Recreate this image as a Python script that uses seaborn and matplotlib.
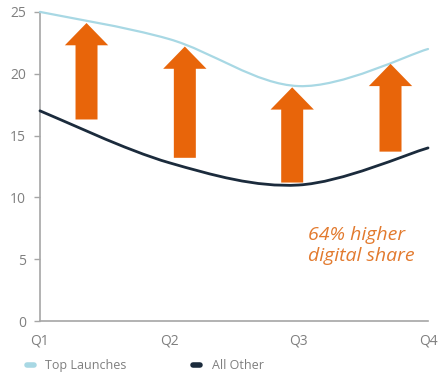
import numpy as np
import matplotlib
matplotlib.use("Agg")
import matplotlib.pyplot as plt
import seaborn as sns
from matplotlib.path import Path
from matplotlib.patches import PathPatch
from matplotlib.lines import Line2D

# ========== data ==========
quarters = ["Q1", "Q2", "Q3", "Q4"]
top_launches = [25.0, 22.8, 19.0, 22.0]
all_other = [17.0, 12.8, 11.0, 14.0]

# arrow annotations (x in quarter index, y from base to tip)
arrow_x = [0.36, 1.12, 1.95, 2.71]
arrow_base = [16.3, 13.2, 11.2, 13.7]
arrow_tip = [24.1, 22.2, 18.9, 20.8]

light_blue = "#A8D8E4"
navy = "#1B2B3C"
orange = "#E8650A"
grey = "#7F7F7F"

sns.set_theme(style="white")
plt.rcParams['font.family'] = ['Open Sans', 'DejaVu Sans']


def smooth_path(xs, ys):
    """Catmull-Rom style bezier through the points (like Excel smoothed lines)"""
    pts = np.column_stack([xs, ys]).astype(float)
    ext = np.vstack([pts[0], pts, pts[-1]])
    verts = [pts[0]]
    codes = [Path.MOVETO]
    for i in range(len(pts) - 1):
        p0, p1, p2, p3 = ext[i], ext[i + 1], ext[i + 2], ext[i + 3]
        c1 = p1 + (p2 - p0) / 6.0
        c2 = p2 - (p3 - p1) / 6.0
        verts += [c1, c2, p2]
        codes += [Path.CURVE4] * 3
    return Path(verts, codes)


fig = plt.figure(figsize=(4.39, 3.72), dpi=100)
ax = fig.add_axes([0.091, 0.137, 0.884, 0.831])

x = np.arange(len(quarters))
for vals, color, lw in [(top_launches, light_blue, 1.6), (all_other, navy, 2.0)]:
    patch = PathPatch(smooth_path(x, vals), facecolor="none", edgecolor=color,
                      lw=lw, capstyle="round", clip_on=False, zorder=3)
    ax.add_patch(patch)

for ax_x, b, t in zip(arrow_x, arrow_base, arrow_tip):
    ax.arrow(ax_x, b, 0, t - b, width=0.17, head_width=0.335, head_length=1.8,
             length_includes_head=True, color=orange, lw=0, zorder=4)

ax.text(2.07, 6.1, "64% higher\ndigital share", color="#E27A2E", fontsize=14,
        style="italic", ha="left", va="center", linespacing=1.2)

ax.set_xlim(0, 3)
ax.set_ylim(0, 25)
ax.set_xticks(x)
ax.set_xticklabels(quarters)
ax.set_yticks([0, 5, 10, 15, 20, 25])
ax.tick_params(axis="y", left=True, length=4, width=1, color="#A6A6A6",
               labelsize=10, labelcolor=grey, pad=6)
ax.tick_params(axis="x", bottom=False, labelsize=10, labelcolor=grey, pad=3)

sns.despine(ax=ax)
for side in ["left", "bottom"]:
    ax.spines[side].set_color("#A6A6A6")
    ax.spines[side].set_linewidth(1.2)

handles = [Line2D([], [], color=light_blue, lw=4),
           Line2D([], [], color=navy, lw=4)]
fig.legend(handles, ["Top Launches", "All Other"], loc="lower left",
           bbox_to_anchor=(0.035, -0.03), ncol=2, frameon=False, fontsize=9,
           labelcolor=grey, handlelength=0.6, columnspacing=5.3, handletextpad=0.9)

plt.savefig("out.png", dpi=100)
plt.close()
